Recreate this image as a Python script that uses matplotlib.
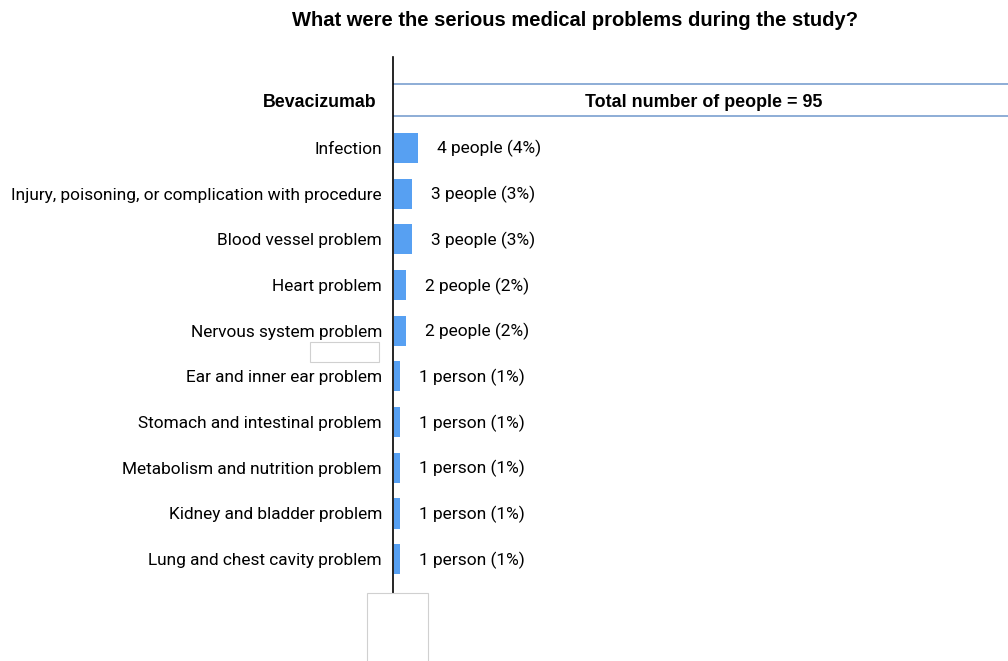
import matplotlib
matplotlib.use("Agg")
import matplotlib.pyplot as plt
from matplotlib.patches import Rectangle

problems = [
    "Infection",
    "Injury, poisoning, or complication with procedure",
    "Blood vessel problem",
    "Heart problem",
    "Nervous system problem",
    "Ear and inner ear problem",
    "Stomach and intestinal problem",
    "Metabolism and nutrition problem",
    "Kidney and bladder problem",
    "Lung and chest cavity problem",
]
people = [4, 3, 3, 2, 2, 1, 1, 1, 1, 1]
percent = [4, 3, 3, 2, 2, 1, 1, 1, 1, 1]
total = 95
group = "Bevacizumab"
title = "What were the serious medical problems during the study?"

W, H = 1008, 661
fig = plt.figure(figsize=(W / 100, H / 100), dpi=100)

# axes spans from the vertical line to the right edge
left, right, top, bottom = 393, 1008, 57, 593
ax = fig.add_axes([left / W, 1 - bottom / H, (right - left) / W, (bottom - top) / H])

rows = list(range(len(problems)))
ax.barh(rows, percent, height=0.66, color="#57a0f2", left=0.15)
ax.set_xlim(0, (right - left) / 6.0)
ax.set_ylim(9.74, -1.99)

for spine in ["top", "right", "bottom"]:
    ax.spines[spine].set_visible(False)
ax.spines["left"].set_linewidth(1.2)
ax.set_xticks([])
ax.set_yticks(rows)
ax.set_yticklabels(problems, fontsize=12.4, family="Roboto")
ax.tick_params(axis="y", length=0, pad=8)

for r, n, p in zip(rows, people, percent):
    word = "person" if n == 1 else "people"
    ax.text(p + 3.4, r + 0.02, f"{n} {word} ({p}%)", va="center", ha="left",
            fontsize=12.5, family="Roboto")

# header band
for y in (-1.39, -0.70):
    ax.axhline(y, color="#7a9fd0", lw=1.2)
ax.text(51.8, -0.99, f"Total number of people = {total}", ha="center", va="center",
        fontsize=12.9, fontweight="bold", family="Liberation Sans")
ax.text(-2.8, -0.99, group, ha="right", va="center", fontsize=12.8,
        fontweight="bold", family="Liberation Sans")

fig.text(575 / W, 1 - 21 / H, title, ha="center", va="center", fontsize=14.5,
         fontweight="bold", family="Liberation Sans")

# faint leftover boxes
for x0, y0, x1, y1 in [(310, 342, 379, 362), (367, 593, 428, 665)]:
    fig.patches.append(Rectangle((x0 / W, 1 - y1 / H), (x1 - x0) / W, (y1 - y0) / H,
                                 transform=fig.transFigure, fill=False,
                                 edgecolor="#d0d0d0", lw=0.8))

fig.savefig("out.png", dpi=100)
